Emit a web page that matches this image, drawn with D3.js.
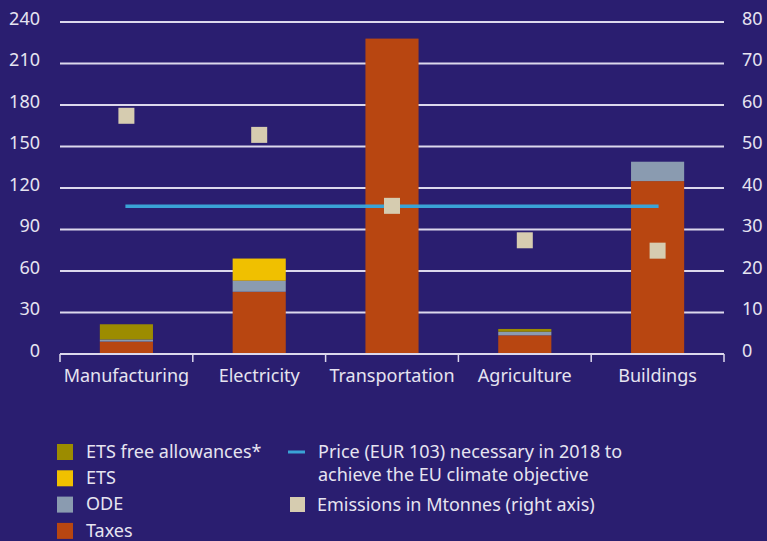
<!DOCTYPE html>
<html><head><meta charset="utf-8">
<script src="https://cdn.jsdelivr.net/npm/d3@7"></script>
<style>
html,body{margin:0;padding:0;background:#2a1e70;}
svg{display:block;}
text{font-family:"Noto Sans","Open Sans",sans-serif;fill:#e6e4f0;}
</style></head><body>
<svg id="chart" width="767" height="541"></svg>
<script>
const categories = ["Manufacturing","Electricity","Transportation","Agriculture","Buildings"];
const taxes = [9, 45, 228, 13.5, 125];
const ode = [1.5, 8, 0, 2.6, 14];
const ets = [0, 16, 0, 0, 0];
const etsFree = [11, 0, 0, 2, 0];
const emissions = [57.4, 52.8, 35.7, 27.4, 24.9];
const priceLine = 106.8;
const leftTicks = [0,30,60,90,120,150,180,210,240];
const rightTicks = [0,10,20,30,40,50,60,70,80];
const seriesNames = ["Taxes","ODE","ETS","ETS free allowances*"];
const seriesColors = ["#b84611","#8a9bb0","#f0c000","#9c8c00"];

const svg = d3.select("#chart");
const x0 = 60, x1 = 724, yTop = 22, yBot = 354;
const fs = 18;
const x = d3.scaleBand().domain(categories).range([x0,x1]).paddingInner(0.6).paddingOuter(0.3);
const xb = d3.scaleBand().domain(categories).range([x0,x1]).padding(0);
const y = d3.scaleLinear().domain([0,240]).range([yBot,yTop]);
const yR = d3.scaleLinear().domain([0,80]).range([yBot,yTop]);

// gridlines
svg.append("g").selectAll("line").data(leftTicks.slice(1)).join("line")
  .attr("x1",x0).attr("x2",x1).attr("y1",d=>y(d)).attr("y2",d=>y(d))
  .attr("stroke","#dcd8ec").attr("stroke-width",2);

// stacked bars
const rows = categories.map((c,i)=>({cat:c, Taxes:taxes[i], ODE:ode[i], ETS:ets[i], "ETS free allowances*":etsFree[i]}));
const stack = d3.stack().keys(seriesNames)(rows);
svg.append("g").selectAll("g").data(stack).join("g")
  .attr("fill",(d,i)=>seriesColors[i])
  .selectAll("rect").data(d=>d.filter(s=>s[1]-s[0]>0)).join("rect")
  .attr("x",d=>x(d.data.cat)).attr("width",x.bandwidth())
  .attr("y",d=>y(d[1])).attr("height",d=>y(d[0])-y(d[1]));

// price line
svg.append("line")
  .attr("x1",xb(categories[0])+xb.bandwidth()/2-1)
  .attr("x2",xb(categories[4])+xb.bandwidth()/2+1)
  .attr("y1",y(priceLine)).attr("y2",y(priceLine))
  .attr("stroke","#3aa3d6").attr("stroke-width",3.5);

// emissions squares
const sq = 16;
svg.append("g").selectAll("rect").data(emissions).join("rect")
  .attr("x",(d,i)=>xb(categories[i])+xb.bandwidth()/2-sq/2)
  .attr("y",d=>yR(d)-sq/2).attr("width",sq).attr("height",sq)
  .attr("fill","#d6ccb0");

// bottom axis
const xAxis = d3.axisBottom(xb).tickSize(0).tickPadding(15);
const gx = svg.append("g").attr("transform",`translate(0,${yBot})`).call(xAxis);
gx.select(".domain").remove();
gx.selectAll("text").attr("font-size",fs).style("font-family","'Noto Sans',sans-serif").attr("fill","#e6e4f0");
svg.append("line").attr("x1",x0).attr("x2",x1).attr("y1",yBot).attr("y2",yBot).attr("stroke","#dcd8ec").attr("stroke-width",2);
const bounds = categories.map(c=>xb(c)).concat([x1]);
svg.append("g").selectAll("line").data(bounds).join("line")
  .attr("x1",d=>d).attr("x2",d=>d).attr("y1",yBot).attr("y2",yBot+8)
  .attr("stroke","#dcd8ec").attr("stroke-width",1.5);

// left axis labels
svg.append("g").selectAll("text").data(leftTicks).join("text")
  .attr("x",40).attr("y",d=>y(d)-2).attr("text-anchor","end")
  .attr("dominant-baseline","middle").attr("font-size",fs).text(d=>d);
// right axis labels
svg.append("g").selectAll("text").data(rightTicks).join("text")
  .attr("x",742).attr("y",d=>yR(d)-2).attr("text-anchor","start")
  .attr("dominant-baseline","middle").attr("font-size",fs).text(d=>d);

// legend
const leg1 = [["ETS free allowances*","#9c8c00"],["ETS","#f0c000"],["ODE","#8a9bb0"],["Taxes","#b84611"]];
const lg = svg.append("g");
leg1.forEach((d,i)=>{
  const cy = 452 + i*26.3;
  lg.append("rect").attr("x",57).attr("y",cy-8).attr("width",16).attr("height",16).attr("fill",d[1]);
  lg.append("text").attr("x",86).attr("y",cy+1).attr("dominant-baseline","middle").attr("font-size",fs).text(d[0]);
});
lg.append("line").attr("x1",288).attr("x2",305).attr("y1",452).attr("y2",452).attr("stroke","#3aa3d6").attr("stroke-width",3);
lg.append("text").attr("x",318).attr("y",453).attr("dominant-baseline","middle").attr("font-size",fs).text("Price (EUR 103) necessary in 2018 to");
lg.append("text").attr("x",318).attr("y",476).attr("dominant-baseline","middle").attr("font-size",fs).text("achieve the EU climate objective");
lg.append("rect").attr("x",290).attr("y",497).attr("width",15).attr("height",15).attr("fill","#d6ccb0");
lg.append("text").attr("x",317).attr("y",506).attr("dominant-baseline","middle").attr("font-size",fs).text("Emissions in Mtonnes (right axis)");
</script>
</body></html>
